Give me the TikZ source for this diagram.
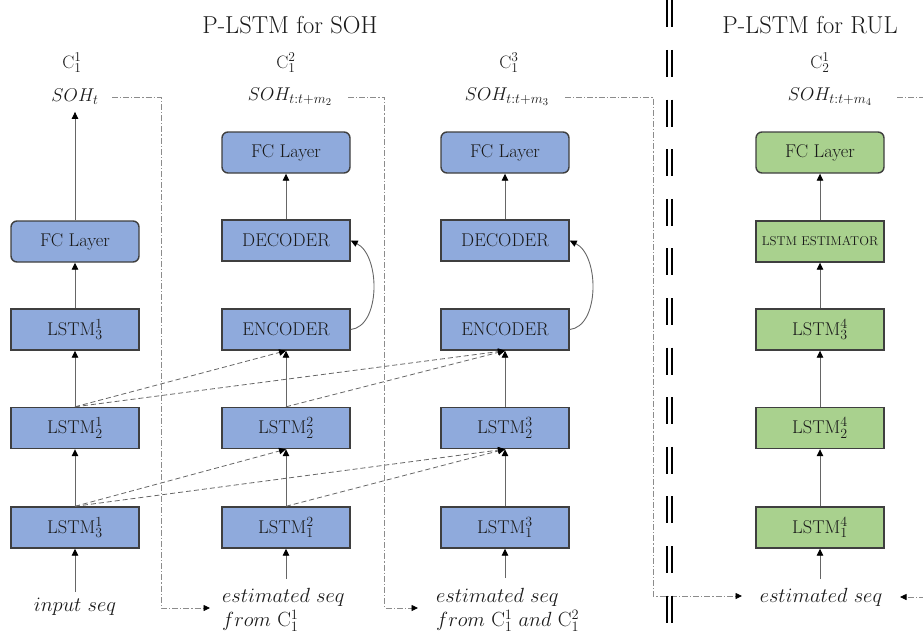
\RequirePackage{fix-cm}
\documentclass[tikz,border=0pt]{standalone}
\usetikzlibrary{arrows.meta}
\definecolor{boxblue}{HTML}{8FAADC}
\definecolor{boxgreen}{HTML}{A9D18E}
\definecolor{boxline}{HTML}{3F3F3F}
\definecolor{txt}{HTML}{1A1A1A}
\newcommand{\myfs}[2]{\fontsize{#1}{#2}\selectfont}
\DeclareMathSizes{18.5}{18.5}{14}{10.5}
\DeclareMathSizes{18}{18}{13.5}{10}
\begin{document}
\begin{tikzpicture}[x=1pt,y=-1pt,
  blk/.style={draw=boxline,line width=1.4pt,minimum width=128pt,minimum height=41pt,inner sep=0pt,text=txt,font={\myfs{18.5}{22}}},
  bb/.style={blk,fill=boxblue},
  gb/.style={blk,fill=boxgreen},
  rnd/.style={rounded corners=6pt},
  lab/.style={text=txt,inner sep=0pt},
  tip/.style={-{Triangle[length=7pt,width=6.5pt,color=black]}},
  arr/.style={draw=black!60,line width=0.9pt,tip},
  dsh/.style={draw=black!60,line width=0.8pt,dash pattern=on 5pt off 3pt,tip},
  dd/.style={draw=black!45,line width=0.8pt,dash pattern=on 6pt off 2pt on 1.2pt off 2pt},
  ddtip/.style={dd,-{Triangle[length=6.5pt,width=6pt,color=black]}}
]
\useasboundingbox (0,0) rectangle (923,642);

% titles
\node[lab,font={\myfs{24.5}{28}}] (t1) at (290,25) {P-LSTM for SOH};
\node[lab,font={\myfs{24.5}{28}}] (t2) at (810,25) {P-LSTM for RUL};

% C labels
\node[lab,font={\myfs{18}{22}}] (cl1) at (72,63) {$\mathrm{C}_1^1$};
\node[lab,font={\myfs{18}{22}}] (cl2) at (286,63) {$\mathrm{C}_1^2$};
\node[lab,font={\myfs{18}{22}}] (cl3) at (509,63) {$\mathrm{C}_1^3$};
\node[lab,font={\myfs{18}{22}}] (cl4) at (820,63) {$\mathrm{C}_2^1$};

% SOH labels
\node[lab,font={\myfs{18.5}{22}}] (soh1) at (75,97) {$SOH_t$};
\node[lab,font={\myfs{18.5}{22}}] (soh2) at (290,97) {$SOH_{t:t+m_2}$};
\node[lab,font={\myfs{18.5}{22}}] (soh3) at (507,97) {$SOH_{t:t+m_3}$};
\node[lab,font={\myfs{18.5}{22}}] (soh4) at (830,97) {$SOH_{t:t+m_4}$};

% column 1
\node[bb] (a1) at (75,527.5) {LSTM$_3^1$};
\node[bb] (a2) at (75,428) {LSTM$_2^1$};
\node[bb] (a3) at (75,329.5) {LSTM$_3^1$};
\node[bb,rnd] (a4) at (75,241.5) {FC Layer};
% column 2
\node[bb] (b1) at (286,527.5) {LSTM$_1^2$};
\node[bb] (b2) at (286,428) {LSTM$_2^2$};
\node[bb] (b3) at (286,329.5) {ENCODER};
\node[bb] (b4) at (286,240.5) {DECODER};
\node[bb,rnd] (b5) at (286,152.5) {FC Layer};
% column 3
\node[bb] (c1) at (505,527.5) {LSTM$_1^3$};
\node[bb] (c2) at (505,428) {LSTM$_2^3$};
\node[bb] (c3) at (505,329.5) {ENCODER};
\node[bb] (c4) at (505,240.5) {DECODER};
\node[bb,rnd] (c5) at (505,152.5) {FC Layer};
% column 4
\node[gb] (d1) at (820,527.5) {LSTM$_1^4$};
\node[gb] (d2) at (820,428) {LSTM$_2^4$};
\node[gb] (d3) at (820,329.5) {LSTM$_3^4$};
\node[gb,font={\myfs{12.8}{15}}] (d4) at (820,241.5) {LSTM ESTIMATOR};
\node[gb,rnd] (d5) at (820,152.5) {FC Layer};

% bottom labels
\node[lab,font={\myfs{20.5}{24}}] (in1) at (75,607) {$input\ seq$};
\node[lab,font={\myfs{20.5}{24}},align=left,anchor=west] (e2) at (222,610) {$estimated\ seq$\\$from\ \mathrm{C}_1^1$};
\node[lab,font={\myfs{20.5}{24}},align=left,anchor=west] (e3) at (436,610) {$estimated\ seq$\\$from\ \mathrm{C}_1^1\ and\ \mathrm{C}_1^2$};
\node[lab,font={\myfs{20.5}{24}}] (e4) at (821,597) {$estimated\ seq$};

% input arrow starts
\coordinate (p1) at (75,592);
\coordinate (p2) at (286,579);
\coordinate (p3) at (505,578);
\coordinate (p4) at (820,579);
\draw[arr] (p1) -- (a1.south);
\draw[arr] (p2) -- (b1.south);
\draw[arr] (p3) -- (c1.south);
\draw[arr] (p4) -- (d1.south);

% vertical arrows
\draw[arr] (a1.north) -- (a2.south);
\draw[arr] (a2.north) -- (a3.south);
\draw[arr] (a3.north) -- (a4.south);
\draw[arr,shorten >=7pt] (a4.north) -- (soh1.south);
\draw[arr] (b1.north) -- (b2.south);
\draw[arr] (b2.north) -- (b3.south);
\draw[arr] (b4.north) -- (b5.south);
\draw[arr] (c1.north) -- (c2.south);
\draw[arr] (c2.north) -- (c3.south);
\draw[arr] (c4.north) -- (c5.south);
\draw[arr] (d1.north) -- (d2.south);
\draw[arr] (d2.north) -- (d3.south);
\draw[arr] (d3.north) -- (d4.south);
\draw[arr] (d4.north) -- (d5.south);

% encoder -> decoder curves
\draw[arr] (b3.east) .. controls +(30,-3) and +(30,15) .. (b4.east);
\draw[arr] (c3.east) .. controls +(30,-3) and +(30,15) .. (c4.east);

% dashed cross connections
\draw[dsh] (a2.north) -- (b3.south);
\draw[dsh] (a2.north) -- (c3.south);
\draw[dsh] (b2.north) -- (c3.south);
\draw[dsh] (a1.north) -- (b2.south);
\draw[dsh] (a1.north) -- (c2.south);
\draw[dsh] (b1.north) -- (c2.south);

% dash-dot feedback lines
\coordinate (o1) at (112,97);
\coordinate (v1) at (161,608);
\coordinate (r1) at (210,608);
\coordinate (o2) at (348,97);
\coordinate (v2) at (384.5,608);
\coordinate (r2) at (418,608);
\coordinate (o3) at (565,97);
\coordinate (v3) at (653,596);
\coordinate (r3) at (742,596);
\coordinate (o4) at (897,97);
\coordinate (o4e) at (925,97);
\coordinate (i4) at (925,597);
\coordinate (r4) at (900,597);
\draw[ddtip] (o1) -| (v1) -- (r1);
\draw[ddtip] (o2) -| (v2) -- (r2);
\draw[ddtip] (o3) -| (v3) -- (r3);
\draw[dd] (o4) -- (o4e);
\draw[ddtip] (i4) -- (r4);

% dashed double separator
\draw[black,line width=2.2pt,dash pattern=on 27pt off 22.6pt] (667,0.4) -- (667,642);
\draw[black,line width=2.2pt,dash pattern=on 27pt off 22.6pt] (672,0.4) -- (672,642);
\end{tikzpicture}
\end{document}
